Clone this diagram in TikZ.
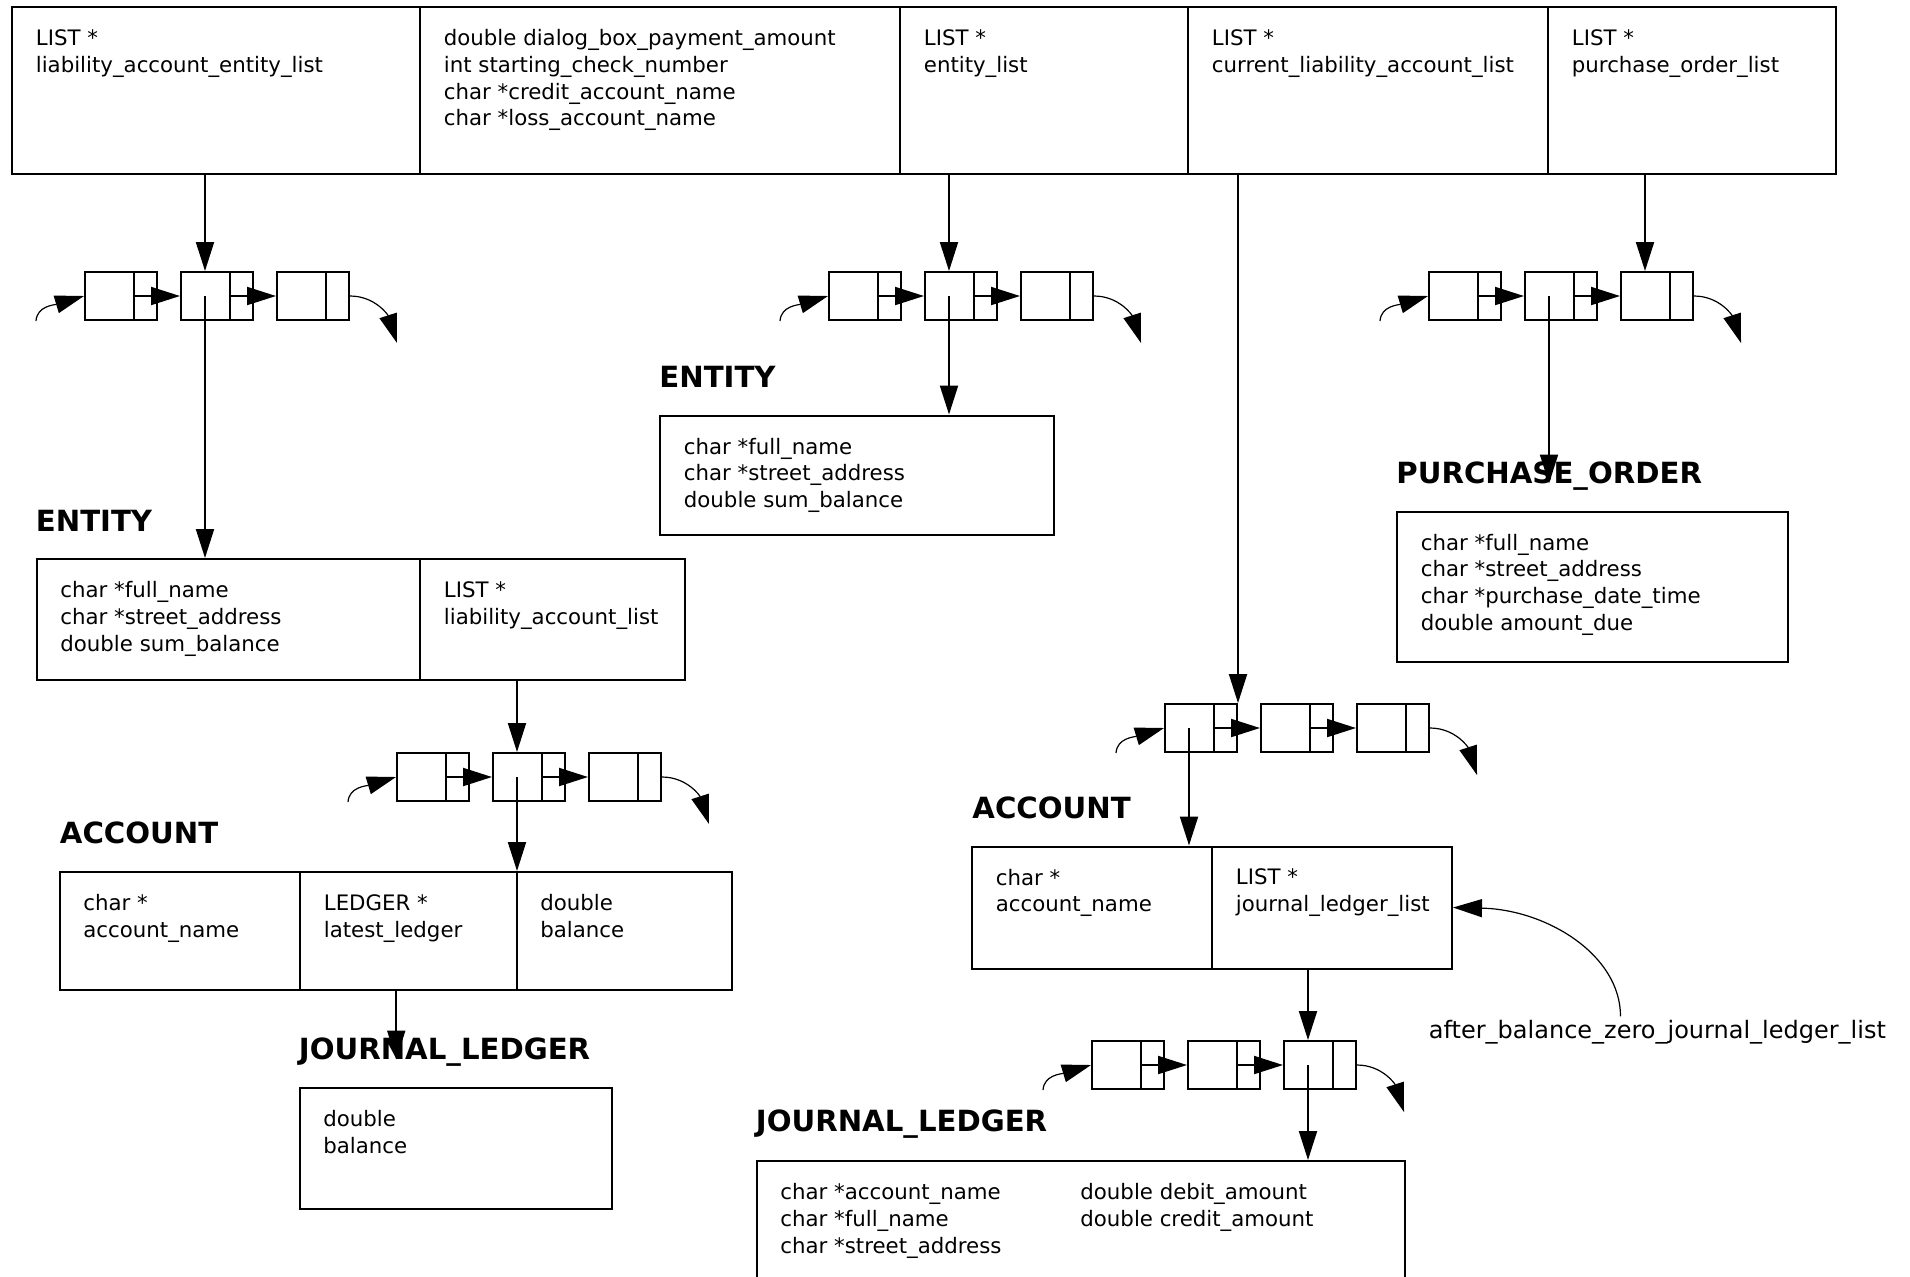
\documentclass[tikz,border=0pt]{standalone}
\usepackage{fontspec}
\setmainfont{DejaVu Sans}
\usetikzlibrary{arrows.meta,fit}
\tikzset{
  cellbox/.style={draw, line width=1pt, inner sep=0pt},
  txt/.style={anchor=north west, inner sep=0pt, align=left, font=\fontsize{10.65pt}{13.4pt}\selectfont},
  anntxt/.style={anchor=base west, inner sep=0pt, font=\fontsize{12pt}{14pt}\selectfont},
  head/.style={anchor=base west, inner sep=0pt, font=\fontsize{14.6pt}{17pt}\selectfont\bfseries},
  lbox/.style={draw, line width=1pt, minimum width=36pt, minimum height=24pt, inner sep=0pt, anchor=north west},
  arr/.style={line width=1pt, -{Triangle[length=14.5pt,width=9pt]}},
  carr/.style={line width=0.6pt, -{Triangle[length=14.5pt,width=9pt]}},
}
% linked list of three nodes: name prefix, x, y (north west of first node)
\newcommand\llist[3]{%
  \node[lbox] (#1a) at (#2,#3) {};
  \node[lbox] (#1b) at (#2+96,#3) {};
  \node[lbox] (#1c) at (#2+192,#3) {};
  \foreach \k in {a,b,c}{%
    \draw[line width=1pt] ([xshift=-12pt]#1\k.north east) -- ([xshift=-12pt]#1\k.south east);
    \coordinate (#1\k-d) at ([xshift=-6pt]#1\k.center);
  }
  \draw[arr] ([xshift=-12pt]#1a.east) -- (#1b.west);
  \draw[arr] ([xshift=-12pt]#1b.east) -- (#1c.west);
  \draw[carr] ([shift={(-48,25)}]#1a.west) .. controls +(1,-15) and +(-30,9) .. (#1a.west);
  \draw[carr] (#1c.east) .. controls +(25,0) and +(-9,-28) .. ([shift={(47,47)}]#1c.east);
}
\newcommand\cellnode[5]{% name, x1, y1, x2, y2
  \node[cellbox, fit={(#2,#3) (#4,#5)}] (#1) {};
}
\begin{document}
\begin{tikzpicture}[x=0.5pt, y=-0.5pt]
\useasboundingbox (0,0) rectangle (1910,1276);
\clip (0,0) rectangle (1910,1276);

% ---------- top structure ----------
\cellnode{top1}{12}{7}{420}{174}
\cellnode{top2}{420}{7}{900}{174}
\cellnode{top3}{900}{7}{1188}{174}
\cellnode{top4}{1188}{7}{1548}{174}
\cellnode{top5}{1548}{7}{1836}{174}
\node[txt] (top1-t) at ([shift={(24.5,23)}]top1.north west) {LIST *\\liability\_account\_entity\_list};
\node[txt] (top2-t) at ([shift={(24.5,23)}]top2.north west) {double dialog\_box\_payment\_amount\\int starting\_check\_number\\char *credit\_account\_name\\char *loss\_account\_name};
\node[txt] (top3-t) at ([shift={(24.5,23)}]top3.north west) {LIST *\\entity\_list};
\node[txt] (top4-t) at ([shift={(24.5,23)}]top4.north west) {LIST *\\current\_liability\_account\_list};
\node[txt] (top5-t) at ([shift={(24.5,23)}]top5.north west) {LIST *\\purchase\_order\_list};

% ---------- lists ----------
\llist{L1}{84}{271}
\llist{L2}{828}{271}
\llist{L3}{1428}{271}
\llist{L4}{396}{752}
\llist{L5}{1164}{703}
\llist{L6}{1091}{1040}

% ---------- ENTITY (left) ----------
\cellnode{ent1a}{36.5}{559}{420}{680}
\cellnode{ent1b}{420}{559}{684.5}{680}
\node[head] (ent1-h) at ([shift={(0,-27)}]ent1a.north west) {ENTITY};
\node[txt] (ent1a-t) at ([shift={(24.5,23)}]ent1a.north west) {char *full\_name\\char *street\_address\\double sum\_balance};
\node[txt] (ent1b-t) at ([shift={(24.5,23)}]ent1b.north west) {LIST *\\liability\_account\_list};

% ---------- ENTITY (middle) ----------
\cellnode{ent2}{660}{415.5}{1053.5}{535}
\node[head] (ent2-h) at ([shift={(0,-27)}]ent2.north west) {ENTITY};
\node[txt] (ent2-t) at ([shift={(24.5,23)}]ent2.north west) {char *full\_name\\char *street\_address\\double sum\_balance};

% ---------- PURCHASE_ORDER ----------
\cellnode{po}{1397}{511.5}{1788}{661.5}
\node[head] (po-h) at ([shift={(0,-27)}]po.north west) {PURCHASE\_ORDER};
\node[txt] (po-t) at ([shift={(24.5,23)}]po.north west) {char *full\_name\\char *street\_address\\char *purchase\_date\_time\\double amount\_due};

% ---------- ACCOUNT (left) ----------
\cellnode{acc1a}{59.5}{872}{300}{990}
\cellnode{acc1b}{300}{872}{516.5}{990}
\cellnode{acc1c}{516.5}{872}{732}{990}
\node[head] (acc1-h) at ([shift={(1,-27.5)}]acc1a.north west) {ACCOUNT};
\node[txt] (acc1a-t) at ([shift={(24.5,23)}]acc1a.north west) {char *\\account\_name};
\node[txt] (acc1b-t) at ([shift={(24.5,23)}]acc1b.north west) {LEDGER *\\latest\_ledger};
\node[txt] (acc1c-t) at ([shift={(24.5,23)}]acc1c.north west) {double\\balance};

% ---------- JOURNAL_LEDGER (left) ----------
\cellnode{jl1}{299.5}{1088}{611.5}{1208.5}
\node[head] (jl1-h) at ([shift={(0,-27.5)}]jl1.north west) {JOURNAL\_LEDGER};
\node[txt] (jl1-t) at ([shift={(24.5,23)}]jl1.north west) {double\\balance};

% ---------- ACCOUNT (right) ----------
\cellnode{acc2a}{972}{846.5}{1212}{968.5}
\cellnode{acc2b}{1212}{846.5}{1452}{968.5}
\node[head] (acc2-h) at ([shift={(1,-27.5)}]acc2a.north west) {ACCOUNT};
\node[txt] (acc2a-t) at ([shift={(24.5,23)}]acc2a.north west) {char *\\account\_name};
\node[txt] (acc2b-t) at ([shift={(24.5,23)}]acc2b.north west) {LIST *\\journal\_ledger\_list};

% ---------- JOURNAL_LEDGER (right) ----------
\cellnode{jl2}{756.5}{1161}{1404.5}{1330}
\node[head] (jl2-h) at ([shift={(0,-29)}]jl2.north west) {JOURNAL\_LEDGER};
\node[txt] (jl2-t1) at ([shift={(24.5,23)}]jl2.north west) {char *account\_name\\char *full\_name\\char *street\_address};
\node[txt] (jl2-t2) at ([shift={(324.5,23)}]jl2.north west) {double debit\_amount\\double credit\_amount};

% ---------- annotation ----------
\node[anntxt] (ann) at (1428.5,1038) {after\_balance\_zero\_journal\_ledger\_list};
\draw[carr] ([shift={(192,-3)}]ann.north west) .. controls +(0,-62) and +(93,2) .. (acc2b.east);

% ---------- connectors ----------
\coordinate (acc1b-out) at ([xshift=-6pt]acc1b.south);
\draw[arr] (top1.south -| L1b-d) -- (L1b.north -| L1b-d);
\draw[arr] (L1b-d) -- (ent1a.north -| L1b-d);
\draw[arr] (top3.south -| L2b-d) -- (L2b.north -| L2b-d);
\draw[arr] (L2b-d) -- (ent2.north -| L2b-d);
\draw[arr] (top4.south -| L5a.north east) -- (L5a.north east);
\draw[arr] (L5a-d) -- (acc2a.north -| L5a-d);
\draw[arr] (top5.south -| L3c-d) -- (L3c.north -| L3c-d);
\draw[arr] (L3b-d) -- (po-h.base -| L3b-d);
\draw[arr] (ent1b.south -| L4b-d) -- (L4b.north -| L4b-d);
\draw[arr] (L4b-d) -- (acc1c.north -| L4b-d);
\draw[arr] (acc1b-out) -- (jl1-h.base -| acc1b-out);
\draw[arr] (acc2b.south -| L6c-d) -- (L6c.north -| L6c-d);
\draw[arr] (L6c-d) -- (jl2.north -| L6c-d);
\end{tikzpicture}
\end{document}
